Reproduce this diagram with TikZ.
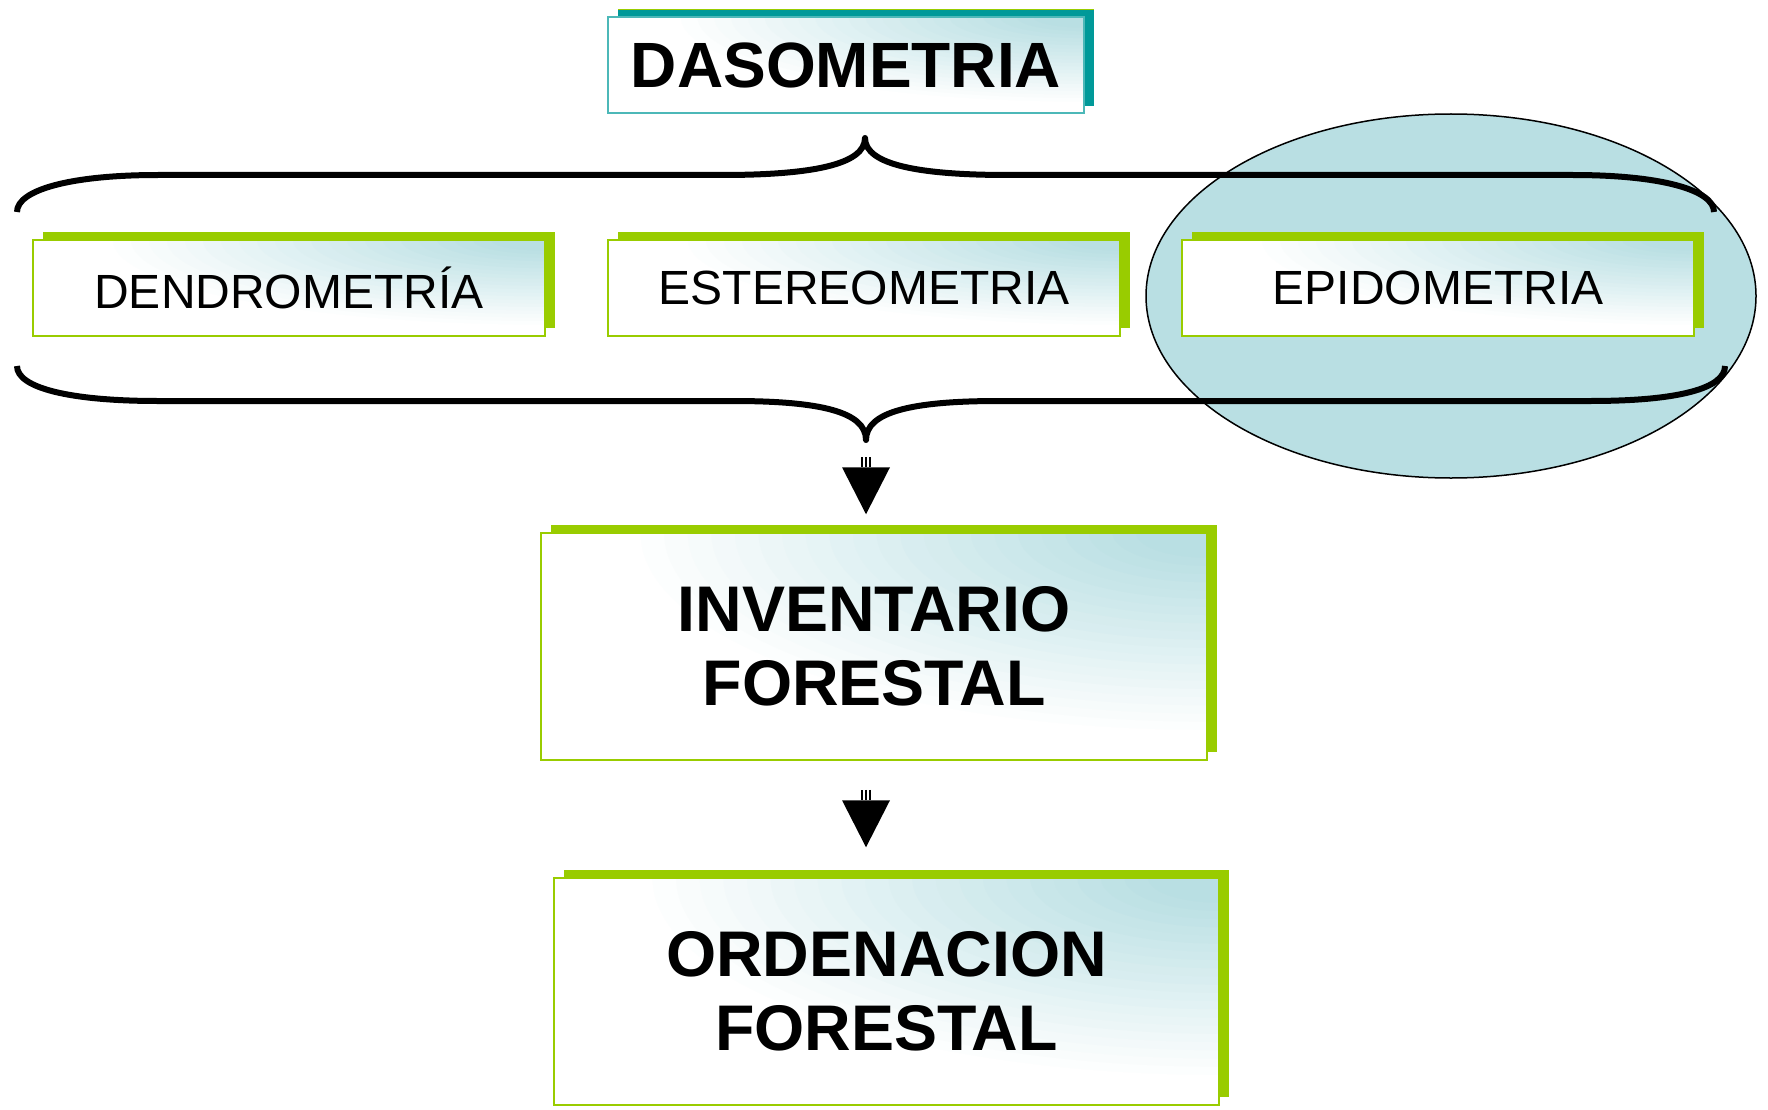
\documentclass[tikz,border=0pt]{standalone}
\usepackage{fontspec}
\setmainfont{Liberation Sans}
\usetikzlibrary{arrows.meta,shadows}

\newlength{\du}
\setlength{\du}{1pt}

\definecolor{verdelima}{RGB}{153,204,0}
\definecolor{tealoscuro}{RGB}{0,153,153}
\definecolor{celeste}{RGB}{185,223,227}

\tikzset{
  % caja: x radius, y radius of the corner gradient
  caja/.style 2 args={fill=white,
    path picture={
      \foreach \k in {25,...,1}{
        \pgfmathtruncatemacro{\mezcla}{min(100,(100-4*\k)*1.15)}
        \fill[celeste!\mezcla!white] (path picture bounding box.north east)
          ellipse [x radius={#1*\k/25*\du}, y radius={#2*\k/25*\du}];
      }},
    draw=verdelima, line width=1.5\du, inner sep=0pt, align=center,
    general shadow={fill=verdelima, shadow xshift=10\du, shadow yshift=8\du}},
  cajatitulo/.style={caja={420}{88}, draw=tealoscuro!70,
    general shadow={fill=tealoscuro, shadow xshift=10\du, shadow yshift=7\du}},
  cajamedia/.style={caja={450}{88}, minimum width=512\du, minimum height=96\du,
    font=\fontsize{48}{58}\selectfont},
  cajagrande/.style={caja={590}{205}, minimum width=666\du, minimum height=227\du,
    font=\fontsize{64.5}{74}\selectfont\bfseries},
  llave/.style={draw=black, line width=6\du, line join=round},
  % flecha: shorten <, shorten >, shorten > of the stem
  flecha/.style n args={3}{-{Triangle[length=47pt,width=48pt,line width=0pt]},
    line width=10\du, shorten <=#1\du, shorten >=#2\du,
    postaction={-, draw=white, double=black, line width=2\du, double distance=2\du,
      shorten <=#1\du, shorten >=#3\du}}
}

\begin{document}
\begin{tikzpicture}[x=1\du,y=-1\du]
\useasboundingbox (0,0) rectangle (1768,1110);

% fondo de epidometria
\filldraw[fill=celeste, draw=black, line width=1.5\du] (1451,296) ellipse [x radius=305, y radius=182];

% llaves
\coordinate (puntaLlave) at (866,440);
\draw[llave] (17,212) .. controls (17,190) and (70,175) .. (158,175) -- (722,175)
  .. controls (810,175) and (865,165) .. (865,138)
  .. controls (865,165) and (920,175) .. (1008,175) -- (1573,175)
  .. controls (1661,175) and (1714,190) .. (1714,212);
\draw[llave] (17,366) .. controls (17,388) and (70,401) .. (158,401) -- (733,401)
  .. controls (821,401) and (866,412) .. (puntaLlave)
  .. controls (866,412) and (911,401) .. (999,401) -- (1590,401)
  .. controls (1680,401) and (1725,388) .. (1725,366);

\node[cajatitulo, minimum width=476\du, minimum height=96\du,
  font=\fontsize{64}{74}\selectfont\bfseries] (dasometria) at (846,65) {DASOMETRIA};

\node[cajamedia] (dendrometria) at (289,288) {DENDROMETRÍA};
\node[cajamedia] (estereometria) at (864,288) {ESTEREOMETRIA};
\node[cajamedia] (epidometria) at (1438,288) {EPIDOMETRIA};

\node[cajagrande] (inventario) at (874,646.5) {INVENTARIO\\FORESTAL};
\node[cajagrande, minimum width=665\du] (ordenacion) at (886.5,991.5) {ORDENACION\\FORESTAL};

\draw[flecha={17}{18}{65}] (puntaLlave) -- (puntaLlave |- inventario.north);
\draw[flecha={29}{30}{77}] (inventario.south -| puntaLlave) -- (ordenacion.north -| puntaLlave);
\end{tikzpicture}
\end{document}
